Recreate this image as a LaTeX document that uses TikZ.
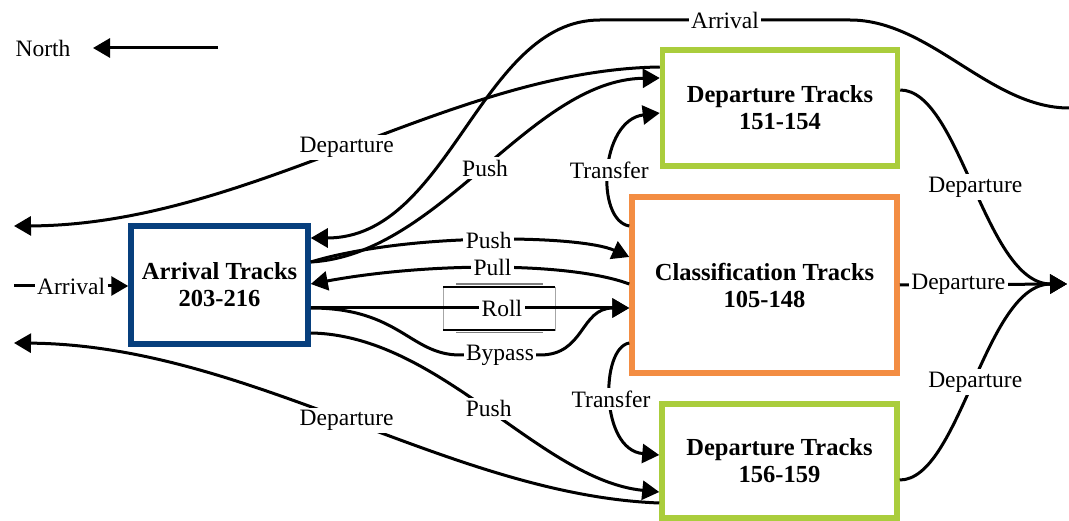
\documentclass[tikz,border=0pt]{standalone}
\usepackage{fontspec}
\setmainfont{Liberation Serif}
\usetikzlibrary{arrows.meta}

\definecolor{arrblue}{HTML}{073F7D}
\definecolor{clsorange}{HTML}{F38D43}
\definecolor{depgreen}{HTML}{AACD3C}

\begin{document}
\begin{tikzpicture}[x=1pt, y=-1pt,
  yard/.style={draw, line width=5.5pt, fill=white, align=center,
    font=\fontsize{24.5}{27}\selectfont\bfseries, inner sep=0pt},
  conn/.style={line width=3pt},
  arrow/.style={conn, -{Triangle[length=17pt, width=19pt]}},
  lbl/.style={fill=white, inner sep=2.5pt, font=\fontsize{23.5}{26}\selectfont}]

\useasboundingbox (0,0) rectangle (1069,521);

% yards (pixel coordinates, y runs downwards)
\node[yard, draw=arrblue,   minimum width=177pt, minimum height=118pt] (arr)  at (219.5,285) {Arrival Tracks\\203-216};
\node[yard, draw=clsorange, minimum width=265pt, minimum height=176pt] (cls)  at (764.5,285) {Classification Tracks\\105-148};
\node[yard, draw=depgreen,  minimum width=235pt, minimum height=116pt] (depn) at (780,108)   {Departure Tracks\\151-154};
\node[yard, draw=depgreen,  minimum width=235pt, minimum height=114pt] (deps) at (779.5,461) {Departure Tracks\\156-159};

% loose ends
\coordinate (nfrom) at (218,48);
\coordinate (ntip)  at (93,48);
\coordinate (inw)   at (14,286);
\coordinate (outnw) at (14,226);
\coordinate (outsw) at (14,343);
\coordinate (arrin) at (1069,108);
\coordinate (exit)  at (1067,284);

% compass
\node[lbl] (north) at (43,48) {North};
\draw[arrow] (nfrom) -- (ntip);

% hump (roll) symbol
\draw[gray!70, line width=0.8pt] (443,287) rectangle (555,330);
\draw[line width=2.4pt] (443,287) -- (555,287) (443,330) -- (555,330);
\draw[gray, line width=1.3pt] (456,284) -- (543,284) (456,332.5) -- (543,332.5);

% into the arrival yard
\draw[arrow] (inw) -- node[lbl] {Arrival} (arr.west |- 0,286);
\draw[arrow] (arrin) .. controls (990,108) and (930,20) .. (850,20)
  -- node[lbl] {Arrival} (600,20)
  .. controls (480,20) and (450,238) .. (arr.east |- 0,238);

% arrival yard <-> classification
\draw[arrow] (arr.east |- 0,262) .. controls (410,232) and (580,235) .. node[lbl] {Push} (cls.west |- 0,257);
\draw[arrow] (cls.west |- 0,284) .. controls (570,262) and (430,262) .. node[lbl] {Pull} (arr.east |- 0,284);
\draw[arrow] (arr.east |- 0,308) -- node[lbl, pos=0.6] {Roll} (cls.west |- 0,308);
\draw[arrow] (arr.east |- 0,308) .. controls (400,308) and (410,355) .. (460,355)
  -- node[lbl] {Bypass} (540,355)
  .. controls (585,355) and (580,308) .. (cls.west |- 0,308);

% pushes to departure yards
\draw[arrow] (arr.east |- 0,262) .. controls (440,255) and (530,80) .. node[lbl] {Push} (depn.west |- 0,78);
\draw[arrow] (arr.east |- 0,333) .. controls (440,335) and (540,480) .. node[lbl] {Push} (deps.west |- 0,492);

% transfers
\draw[arrow] (cls.west |- 0,226) .. controls (595,220) and (600,120) .. node[lbl] {Transfer} (depn.west |- 0,113);
\draw[arrow] (cls.west |- 0,343) .. controls (600,348) and (600,450) .. node[lbl] {Transfer} (deps.west |- 0,455);

% departures to the north
\draw[arrow] (depn.west |- 0,67) .. controls (450,70) and (250,225) .. node[lbl] {Departure} (outnw);
\draw[arrow] (deps.west |- 0,503) .. controls (450,495) and (250,345) .. node[lbl] {Departure} (outsw);

% departures to the south
\draw[arrow] (depn.east |- 0,90) .. controls (960,90) and (985,284) .. node[lbl] {Departure} (exit);
\draw[arrow] (cls.east) -- node[lbl, pos=0.35] {Departure} (exit);
\draw[arrow] (deps.east |- 0,480) .. controls (960,480) and (985,284) .. node[lbl] {Departure} (exit);

\end{tikzpicture}
\end{document}
